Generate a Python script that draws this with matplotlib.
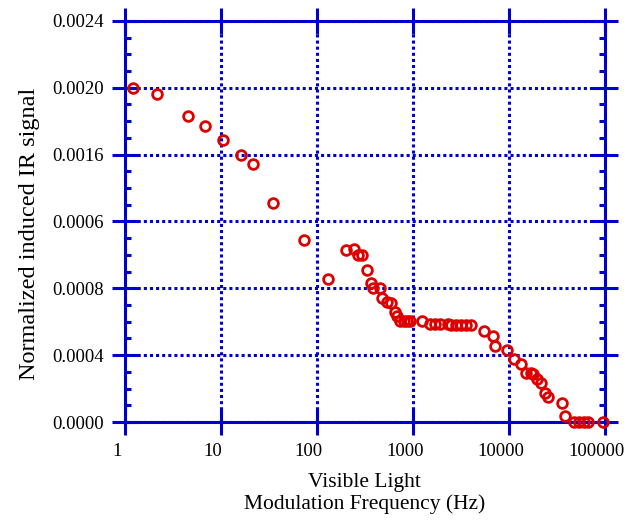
import matplotlib
matplotlib.use('Agg')
import matplotlib.pyplot as plt
import matplotlib.transforms as mtransforms
from matplotlib.ticker import MultipleLocator, NullLocator

plt.rcParams['font.family'] = ['Liberation Serif', 'DejaVu Serif']

# modulation frequency (Hz) and normalized induced IR signal
freq = [1.22, 2.19, 4.61, 6.93, 10.6, 16.4, 21.9, 35.1, 73.2, 131,
        204, 246, 271, 294, 332, 363, 388, 459, 481, 540,
        594, 649, 689, 741, 806, 873, 946, 1262, 1521, 1714,
        1910, 2333, 2530, 2851, 3215, 3625, 4086, 5520, 6857, 7145,
        9530, 11460, 13560, 15140, 16940, 17910, 19720, 21690, 23890, 25660,
        36250, 38960, 47860, 53950, 60860, 67610, 94650]
signal = [0.00200, 0.001965, 0.00183, 0.001774, 0.001687, 0.001599, 0.001541, 0.001312, 0.001089, 0.000855,
          0.00103, 0.001034, 0.001001, 0.001001, 0.000911, 0.000833, 0.000801, 0.000801, 0.000745, 0.000717,
          0.000715, 0.00066, 0.000634, 0.000602, 0.000602, 0.000602, 0.000602, 0.000604, 0.000585, 0.000585,
          0.000585, 0.000588, 0.000578, 0.000578, 0.000578, 0.000578, 0.000579, 0.000546, 0.000514, 0.000458,
          0.000432, 0.000377, 0.000347, 0.000291, 0.000293, 0.000289, 0.000259, 0.000233, 0.000173, 0.000147,
          0.000115, 0.0000335, 0.0, 0.0, 0.0, 0.0, 0.0]

x_ticks = [1, 10, 100, 1000, 10000, 100000]
x_labels = ['1', '10', '100', '1000', '10000', '100000']
y_ticks = [0.0, 0.0004, 0.0008, 0.0012, 0.0016, 0.0020, 0.0024]
# label at 0.0012 reads "0.0006" in the original figure
y_labels = ['0.0000', '0.0004', '0.0008', '0.0006', '0.0016', '0.0020', '0.0024']

blue = '#0000cc'
red = '#dd0000'

fig = plt.figure(figsize=(6.3, 5.23), dpi=100)
ax = fig.add_axes([0.198, 0.193, 0.762, 0.767])

ax.plot(freq, signal, linestyle='none', marker='o', markersize=7,
        markerfacecolor='none', markeredgecolor=red, markeredgewidth=2,
        zorder=4, clip_on=False)

ax.set_xscale('log')
ax.set_xlim(1, 100000)
ax.set_ylim(0, 0.0024)
ax.set_xticks(x_ticks)
ax.set_xticklabels(x_labels)
ax.xaxis.set_minor_locator(NullLocator())
ax.set_yticks(y_ticks)
ax.set_yticklabels(y_labels)
ax.yaxis.set_minor_locator(MultipleLocator(0.0001))

ax.grid(which='major', color=blue, linestyle=(0, (1, 1)), linewidth=2.2)
for s in ax.spines.values():
    s.set_color(blue)
    s.set_linewidth(2.2)

ax.tick_params(which='major', direction='inout', length=19, width=2.2,
               color=blue, top=True, right=True, labelsize=13.5, pad=5.5)
ax.tick_params(axis='y', which='minor', direction='in', length=4.5, width=2.2,
               color=blue, left=True, right=True)

# x tick labels sit a little left of their ticks in the original
shift = mtransforms.ScaledTranslation(-8 / 100, 0, fig.dpi_scale_trans)
for lab in ax.get_xticklabels():
    lab.set_transform(lab.get_transform() + shift)

ax.set_xlabel('Visible Light\nModulation Frequency (Hz)', fontsize=15.5, linespacing=1.15)
ax.xaxis.set_label_coords(0.5, -0.128)
ax.xaxis.label.set_va('top')
ax.set_ylabel('Normalized induced IR signal', fontsize=17.5)
ax.yaxis.set_label_coords(-0.176, 0.468)

plt.savefig('out.png', dpi=100)
plt.close()
